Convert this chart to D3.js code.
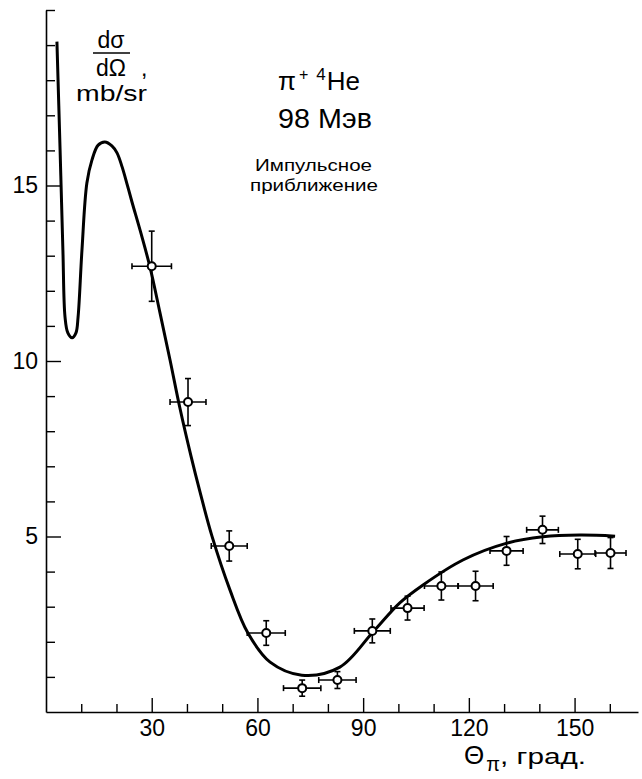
<!DOCTYPE html>
<html>
<head>
<meta charset="utf-8">
<script src="https://cdn.jsdelivr.net/npm/d3@7"></script>
<style>
  body { margin: 0; background: #fff; }
  text { font-family: "Liberation Sans", Arial, sans-serif; fill: #000; }
</style>
</head>
<body>
<div class="chart"></div>
<script>
// impulse approximation curve (angle in deg, dσ/dΩ in mb/sr)
const curveAngle = [3.1, 4.0, 4.8, 5.4, 6.2, 7.4, 8.5, 9.1, 10.2, 11.6, 13.05, 14.8, 16.7, 18.7,
  20.15, 21.6, 23.0, 24.4, 27.0, 29.5, 32.35, 35.2, 38.0, 41.15, 43.7, 47.1, 52.2, 57.3,
  63.6, 72.6, 83.4, 92.8, 100.4, 107.0, 118.3, 130.8, 141.0, 151.5, 161.5];
const curveValue = [19.1, 16.0, 13.15, 11.25, 10.8, 10.66, 10.8, 11.25, 13.15, 15.07, 15.73,
  16.15, 16.24, 16.13, 15.93, 15.53, 15.04, 14.53, 13.62, 12.68, 11.37, 10.03, 8.66, 7.29,
  6.27, 5.01, 3.48, 2.25, 1.42, 1.05, 1.28, 2.28, 3.11, 3.62, 4.33, 4.81, 4.99, 5.04, 5.01];

// measured points
const pointAngle = [30, 40.3, 52, 62.5, 72.7, 82.7, 92.6, 102.6, 112.2, 121.9, 130.7, 140.9, 150.9, 160.2];
const pointValue = [12.7, 8.83, 4.73, 2.25, 0.68, 0.91, 2.31, 2.96, 3.59, 3.59, 4.59, 5.19, 4.5, 4.53];
const angleErr = [5.6, 5.1, 5.1, 5.4, 5.3, 5.3, 5.1, 4.7, 4.8, 5.0, 4.7, 4.5, 5.1, 4.4];
const valueErr = [1.0, 0.67, 0.43, 0.35, 0.23, 0.24, 0.34, 0.34, 0.4, 0.42, 0.41, 0.39, 0.42, 0.44];

const xMajorTicks = [30, 60, 90, 120, 150];
const xMinorTicks = [10, 20, 40, 50, 70, 80, 100, 110, 130, 140, 160];
const yMajorTicks = [5, 10, 15];
const yMinorTicks = [1, 2, 3, 4, 6, 7, 8, 9, 11, 12, 13, 14, 16, 17, 18, 19, 20];

const width = 642, height = 779;

const svg = d3.select('.chart')
  .append('svg')
    .attr('width', width)
    .attr('height', height);

const xScale = d3.scaleLinear().domain([0, 168]).range([46, 638]);
const yScale = d3.scaleLinear().domain([0, 20]).range([712, 10]);

const styleAxis = (g) => {
  g.selectAll('path.domain').attr('stroke', '#000').attr('stroke-width', 1.6);
  g.selectAll('.tick line').attr('stroke', '#000').attr('stroke-width', 1.4);
  g.selectAll('.tick text').attr('font-size', 23).attr('fill', '#000')
    .attr('font-family', '"Liberation Sans", Arial, sans-serif');
};

// x axis (ticks point inside)
svg.append('g')
  .attr('transform', `translate(0, ${yScale(0)})`)
  .call(d3.axisBottom(xScale).tickValues(xMinorTicks).tickFormat('').tickSize(-8).tickSizeOuter(0))
  .call(styleAxis);

svg.append('g')
  .attr('transform', `translate(0, ${yScale(0)})`)
  .call(d3.axisBottom(xScale).tickValues(xMajorTicks).tickSize(-14).tickSizeOuter(0).tickPadding(8))
  .call(styleAxis)
  .call(g => g.select('path.domain').remove());

// y axis
svg.append('g')
  .attr('transform', `translate(${xScale(0)}, 0)`)
  .call(d3.axisLeft(yScale).tickValues(yMinorTicks).tickFormat('').tickSize(-9).tickSizeOuter(0))
  .call(styleAxis);

svg.append('g')
  .attr('transform', `translate(${xScale(0)}, 0)`)
  .call(d3.axisLeft(yScale).tickValues(yMajorTicks).tickSize(-15).tickSizeOuter(0).tickPadding(8))
  .call(styleAxis)
  .call(g => g.select('path.domain').remove());

// theory curve
const line = d3.line()
  .x(d => xScale(d[0]))
  .y(d => yScale(d[1]))
  .curve(d3.curveCatmullRom.alpha(0.5));

svg.append('path')
  .datum(d3.zip(curveAngle, curveValue))
  .attr('d', line)
  .attr('fill', 'none')
  .attr('stroke', '#000')
  .attr('stroke-width', 3);

// data points with error bars
const pts = pointAngle.map((a, i) => ({ a, v: pointValue[i], ea: angleErr[i], ev: valueErr[i] }));
const cap = 3;

const bars = svg.append('g')
  .attr('stroke', '#000')
  .attr('stroke-width', 1.6)
  .selectAll('g')
  .data(pts)
  .enter()
  .append('g');

bars.append('line')
  .attr('x1', d => xScale(d.a - d.ea)).attr('x2', d => xScale(d.a + d.ea))
  .attr('y1', d => yScale(d.v)).attr('y2', d => yScale(d.v));
bars.append('line')
  .attr('x1', d => xScale(d.a)).attr('x2', d => xScale(d.a))
  .attr('y1', d => yScale(d.v - d.ev)).attr('y2', d => yScale(d.v + d.ev));
// caps
bars.append('line')
  .attr('x1', d => xScale(d.a - d.ea)).attr('x2', d => xScale(d.a - d.ea))
  .attr('y1', d => yScale(d.v) - cap).attr('y2', d => yScale(d.v) + cap);
bars.append('line')
  .attr('x1', d => xScale(d.a + d.ea)).attr('x2', d => xScale(d.a + d.ea))
  .attr('y1', d => yScale(d.v) - cap).attr('y2', d => yScale(d.v) + cap);
bars.append('line')
  .attr('x1', d => xScale(d.a) - cap).attr('x2', d => xScale(d.a) + cap)
  .attr('y1', d => yScale(d.v - d.ev)).attr('y2', d => yScale(d.v - d.ev));
bars.append('line')
  .attr('x1', d => xScale(d.a) - cap).attr('x2', d => xScale(d.a) + cap)
  .attr('y1', d => yScale(d.v + d.ev)).attr('y2', d => yScale(d.v + d.ev));

svg.append('g')
  .selectAll('circle')
  .data(pts)
  .enter()
  .append('circle')
    .attr('cx', d => xScale(d.a))
    .attr('cy', d => yScale(d.v))
    .attr('r', 4)
    .attr('fill', '#fff')
    .attr('stroke', '#000')
    .attr('stroke-width', 2);

// y axis title: dσ/dΩ , mb/sr
svg.append('text').attr('x', 111).attr('y', 48).attr('font-size', 23)
  .attr('text-anchor', 'middle').text('dσ');
svg.append('line').attr('x1', 93).attr('x2', 130).attr('y1', 53).attr('y2', 53)
  .attr('stroke', '#000').attr('stroke-width', 1.6);
svg.append('text').attr('x', 111).attr('y', 76).attr('font-size', 23)
  .attr('text-anchor', 'middle').text('dΩ');
svg.append('text').attr('x', 141).attr('y', 76).attr('font-size', 23).text(',');
svg.append('text').attr('x', 76).attr('y', 101).attr('font-size', 22)
  .attr('textLength', 71).attr('lengthAdjust', 'spacingAndGlyphs').text('mb/sr');

// title
const t1 = svg.append('text').attr('x', 278).attr('y', 90).attr('font-size', 26);
t1.append('tspan').text('π');
t1.append('tspan').attr('font-size', 16).attr('dy', -10).attr('dx', 3).text('+');
t1.append('tspan').attr('font-size', 17).attr('dx', 8).text('4');
t1.append('tspan').attr('dy', 10).attr('dx', 1).text('He');

svg.append('text').attr('x', 278).attr('y', 128).attr('font-size', 28)
  .attr('textLength', 94).attr('lengthAdjust', 'spacingAndGlyphs').text('98 Мэв');

svg.append('text').attr('x', 255).attr('y', 171).attr('font-size', 16)
  .attr('textLength', 117).attr('lengthAdjust', 'spacingAndGlyphs').text('Импульсное');
svg.append('text').attr('x', 250).attr('y', 191).attr('font-size', 16)
  .attr('textLength', 128).attr('lengthAdjust', 'spacingAndGlyphs').text('приближение');

// x axis title
const xt = svg.append('text').attr('x', 464).attr('y', 764).attr('font-size', 26);
xt.append('tspan').text('Θ');
xt.append('tspan').attr('font-size', 20).attr('dy', 7).attr('dx', 2).text('π');
xt.append('tspan').attr('font-size', 22).attr('dy', -7)
  .attr('textLength', 86).attr('lengthAdjust', 'spacingAndGlyphs').text(', град.');
</script>
</body>
</html>
